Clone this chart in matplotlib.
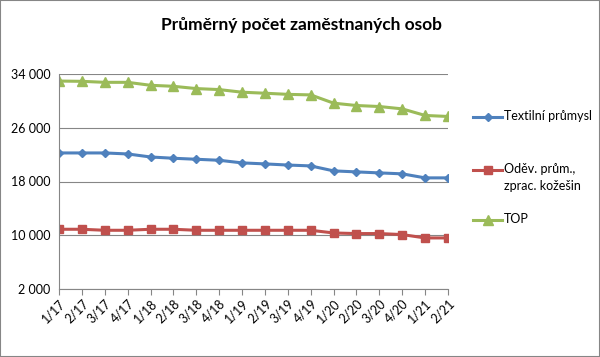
import matplotlib
matplotlib.use("Agg")
import matplotlib.pyplot as plt
from matplotlib.patches import Rectangle
from matplotlib.lines import Line2D

plt.rcParams["font.family"] = ["Lato", "DejaVu Sans"]

# data
quarters = ["1/17", "2/17", "3/17", "4/17", "1/18", "2/18", "3/18", "4/18", "1/19",
            "2/19", "3/19", "4/19", "1/20", "2/20", "3/20", "4/20", "1/21", "2/21"]
textilni = [22250, 22250, 22250, 22100, 21650, 21460, 21310, 21160, 20770,
            20620, 20450, 20320, 19580, 19430, 19280, 19140, 18540, 18540]
odevni = [10890, 10890, 10740, 10740, 10890, 10890, 10740, 10740, 10740,
          10740, 10740, 10740, 10340, 10250, 10250, 10100, 9600, 9600]
top = [32950, 32910, 32760, 32760, 32320, 32170, 31830, 31680, 31290,
       31140, 30970, 30890, 29660, 29310, 29160, 28810, 27830, 27680]
y_ticks = [2000, 10000, 18000, 26000, 34000]

series = [
    ("Textilní průmysl", textilni, "#4F81BD", "D", 4.5),
    ("Oděv. prům.,\nzprac. kožešin", odevni, "#C0504D", "s", 6),
    ("TOP", top, "#9BBB59", "^", 7),
]

fig = plt.figure(figsize=(6, 3.57), dpi=100)
ax = fig.add_axes([59 / 600, 1 - 289 / 357, (448 - 59) / 600, (289 - 74) / 357])

x = list(range(len(quarters)))
for name, vals, col, mk, ms in series:
    ax.plot(x, vals, color=col, lw=2.2, marker=mk, ms=ms, label=name)

ax.set_xlim(0, len(quarters) - 1)
ax.set_ylim(2000, 34000)
ax.set_yticks(y_ticks)
ax.set_yticklabels([f"{v:,}".replace(",", " ") for v in y_ticks], fontsize=9)
ax.set_xticks(x)
ax.set_xticklabels(quarters, rotation=45, ha="right", rotation_mode="anchor", fontsize=9)
ax.yaxis.grid(True, color="#868686", lw=0.8)
ax.set_axisbelow(True)
for s in ("top", "right"):
    ax.spines[s].set_visible(False)
for s in ("left", "bottom"):
    ax.spines[s].set_color("#868686")
ax.tick_params(axis="y", length=0, pad=6)
ax.tick_params(axis="x", length=4, color="#868686", direction="out", pad=2)

fig.text(0.502, 1 - 25 / 357, "Průměrný počet zaměstnaných osob", ha="center", va="center",
         fontsize=12.5, fontweight="bold")

# legend drawn by hand, Excel style (marker row aligned with first text line)
leg_y = [117, 170, 220]
for (name, vals, col, mk, ms), yp in zip(series, leg_y):
    yf = 1 - yp / 357
    fig.add_artist(Line2D([473 / 600, 487.5 / 600, 502 / 600], [yf, yf, yf],
                          transform=fig.transFigure, color=col, lw=2.2,
                          marker=mk, ms=ms, markevery=[1]))
    fig.text(504 / 600, 1 - (yp - 7) / 357, name, ha="left", va="top",
             fontsize=9, linespacing=1.55)

fig.add_artist(Rectangle((0, 0), 1, 1, transform=fig.transFigure, fill=False,
                         edgecolor="#868686", lw=1.5))

fig.savefig("out.png", dpi=100)
